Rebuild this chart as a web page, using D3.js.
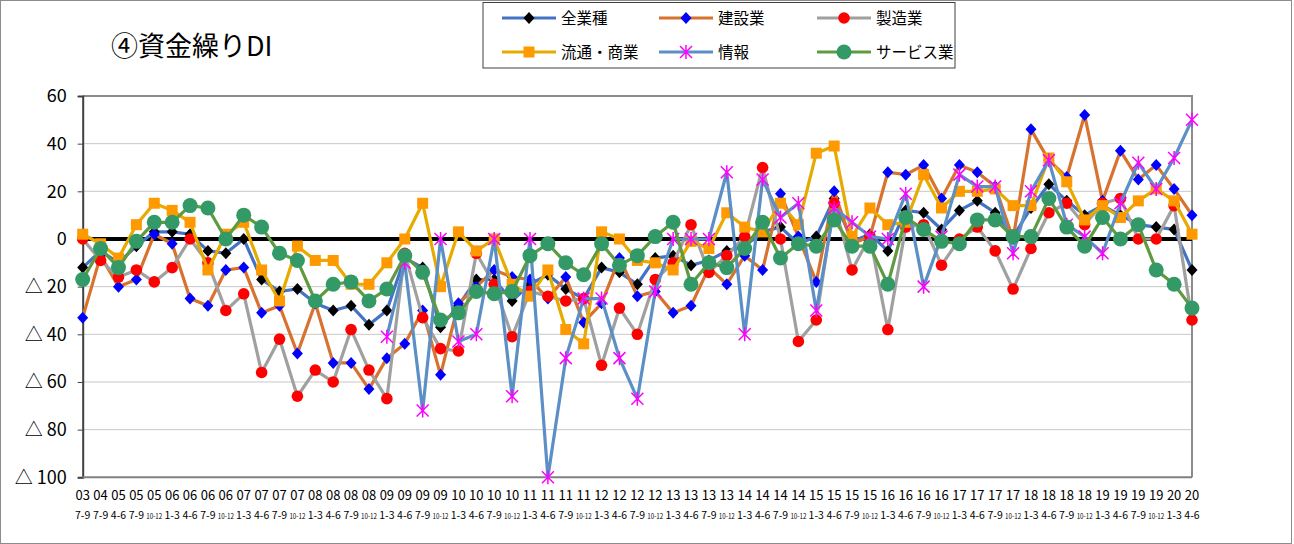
<!DOCTYPE html>
<html>
<head>
<meta charset="utf-8">
<script src="https://cdn.jsdelivr.net/npm/d3@7"></script>
<style>
  body { margin: 0; background: #fff; }
  svg text { font-family: "Noto Sans CJK JP", "Noto Sans", sans-serif; fill: #000; }
</style>
</head>
<body>
<div class="canvas"></div>
<script>
// x categories
const years = ["03","04","05","05","05","06","06","06","06","07","07","07","07","08","08","08","08",
  "09","09","09","09","10","10","10","10","11","11","11","11","12","12","12","12",
  "13","13","13","13","14","14","14","14","15","15","15","15","16","16","16","16",
  "17","17","17","17","18","18","18","18","19","19","19","19","20","20"];
const months = ["7-9","7-9","4-6","7-9","10-12","1-3","4-6","7-9","10-12","1-3","4-6","7-9","10-12",
  "1-3","4-6","7-9","10-12","1-3","4-6","7-9","10-12","1-3","4-6","7-9","10-12","1-3","4-6","7-9","10-12",
  "1-3","4-6","7-9","10-12","1-3","4-6","7-9","10-12","1-3","4-6","7-9","10-12","1-3","4-6","7-9","10-12",
  "1-3","4-6","7-9","10-12","1-3","4-6","7-9","10-12","1-3","4-6","7-9","10-12","1-3","4-6","7-9","10-12",
  "1-3","4-6"];

// series values (DI)
const allInd = [-12,-5,-10,-3,3,3,2,-5,-6,0,-17,-22,-21,-27,-30,-28,-36,-30,-8,-12,-37,-28,-17,-17,-26,-19,-15,-21,-25,-12,-14,-19,-8,-7,-11,-9,-5,-3,3,5,-2,1,17,-1,2,-5,12,11,4,12,16,11,1,13,23,16,10,14,10,6,5,4,-13];
const construction = [-33,-7,-20,-17,2,-2,-25,-28,-13,-12,-31,-28,-48,-27,-52,-52,-63,-50,-44,-30,-57,-27,-20,-13,-16,-17,-25,-16,-35,-27,-8,-24,-22,-31,-28,-12,-19,-7,-13,19,1,-18,20,-2,1,28,27,31,17,31,28,22,0,46,33,26,52,16,37,25,31,21,10];
const manufacturing = [0,-9,-16,-13,-18,-12,0,-10,-30,-23,-56,-42,-66,-55,-60,-38,-55,-67,-6,-33,-46,-47,-6,-19,-41,-22,-24,-26,-25,-53,-29,-40,-17,-10,6,-14,-7,1,30,0,-43,-34,15,-13,1,-38,5,6,-11,0,5,-5,-21,-4,11,15,6,15,17,0,0,14,-34];
const commerce = [2,-2,-8,6,15,12,7,-13,2,7,-13,-26,-3,-9,-9,-19,-19,-10,0,15,-20,3,-5,0,-19,-24,-13,-38,-44,3,0,-9,-10,-13,-1,-4,11,5,3,15,6,36,39,1,13,6,7,27,13,20,20,21,14,14,34,24,8,14,9,16,21,16,2];
const info = [null,null,null,null,null,null,null,null,null,null,null,null,null,null,null,null,null,
  -41,-10,-72,0,-43,-40,0,-66,0,-100,-50,-25,-25,-50,-67,-22,0,0,0,28,-40,25,9,15,-30,13,7,1,0,19,-20,1,27,22,22,-6,20,33,6,1,-6,15,32,21,34,50];
const service = [-17,-4,-12,-1,7,7,14,13,0,10,5,-6,-9,-26,-19,-18,-26,-21,-7,-14,-34,-31,-22,-23,-22,-7,-2,-10,-15,-2,-11,-7,1,7,-19,-10,-12,-4,7,-8,-2,-3,8,-3,-3,-19,9,4,-1,-2,8,8,1,1,17,5,-3,9,0,6,-13,-19,-29];

const seriesNames = ["全業種","建設業","製造業","流通・商業","情報","サービス業"];
const yTicks = [60,40,20,0,-20,-40,-60,-80,-100];

const series = [
  { name: seriesNames[0], values: allInd, line: "#4472C4", fill: "#000", shape: "diamond" },
  { name: seriesNames[1], values: construction, line: "#D8722F", fill: "#0000FF", shape: "diamond" },
  { name: seriesNames[2], values: manufacturing, line: "#A0A0A0", fill: "#FF0000", shape: "circle" },
  { name: seriesNames[3], values: commerce, line: "#E6AA00", fill: "#FF9900", shape: "square" },
  { name: seriesNames[4], values: info, line: "#5B8FC6", fill: "#FF00FF", shape: "star" },
  { name: seriesNames[5], values: service, line: "#5E9A40", fill: "#339966", shape: "bigcircle" }
];

const W = 1294, H = 544;
const plot = { left: 82.7, right: 1192, top: 96, bottom: 477.3 };

const svg = d3.select(".canvas").append("svg")
  .attr("width", W).attr("height", H);

svg.append("rect").attr("x", 0.5).attr("y", 0.5).attr("width", W - 3).attr("height", H - 1)
  .attr("fill", "#fff").attr("stroke", "#8c8c8c");

const categories = years.map((y, i) => y + " " + months[i]);
const x = d3.scalePoint().domain(categories).range([plot.left, plot.right]);
const y = d3.scaleLinear().domain([-100, 60]).range([plot.bottom, plot.top]);

// gridlines
svg.append("g").selectAll("line").data(yTicks.filter(d => d !== 0 && d !== -100 && d !== 60))
  .join("line")
  .attr("x1", plot.left).attr("x2", plot.right)
  .attr("y1", d => y(d)).attr("y2", d => y(d))
  .attr("stroke", "#c8c8c8").attr("stroke-width", 1);

// plot frame top/right
svg.append("path")
  .attr("d", `M${plot.left},${plot.top}H${plot.right}V${plot.bottom}`)
  .attr("fill", "none").attr("stroke", "#8c8c8c").attr("stroke-width", 2);

// y axis
const yAxis = svg.append("g").attr("transform", `translate(${plot.left},0)`)
  .call(d3.axisLeft(y).tickValues(yTicks).tickSize(5)
    .tickFormat(d => d < 0 ? "△ " + (-d) : d));
yAxis.select(".domain").attr("stroke", "#404040").attr("stroke-width", 2);
yAxis.selectAll(".tick line").attr("stroke", "#404040");
yAxis.selectAll(".tick text").attr("x", -16).attr("font-size", 18)
  .style("font-family", "\"Noto Sans CJK JP\", sans-serif");

// x axis line
svg.append("line").attr("x1", plot.left).attr("x2", plot.right)
  .attr("y1", plot.bottom).attr("y2", plot.bottom)
  .attr("stroke", "#808080").attr("stroke-width", 2);

// x labels: year over month range
const xl = svg.append("g").selectAll("g").data(categories).join("g")
  .attr("transform", d => `translate(${x(d)},0)`);
xl.append("text").attr("y", 500).attr("text-anchor", "middle").attr("font-size", 13)
  .text((d, i) => years[i]);
xl.append("text").attr("y", 519).attr("text-anchor", "middle")
  .attr("font-size", (d, i) => months[i].length > 3 ? 7.5 : 10.5)
  .attr("textLength", (d, i) => months[i].length > 3 ? 16 : null)
  .attr("lengthAdjust", "spacingAndGlyphs")
  .text((d, i) => months[i]);

// zero line
svg.append("line").attr("x1", plot.left).attr("x2", plot.right)
  .attr("y1", y(0)).attr("y2", y(0))
  .attr("stroke", "#000").attr("stroke-width", 4);

// marker shapes
function marker(sel, shape, fill) {
  if (shape === "diamond") {
    sel.append("path").attr("d", "M0,-6L5.5,0L0,6L-5.5,0Z").attr("fill", fill);
  } else if (shape === "circle") {
    sel.append("circle").attr("r", 5.8).attr("fill", fill);
  } else if (shape === "bigcircle") {
    sel.append("circle").attr("r", 7.5).attr("fill", fill);
  } else if (shape === "square") {
    sel.append("rect").attr("x", -5.5).attr("y", -5.5).attr("width", 11).attr("height", 11).attr("fill", fill);
  } else if (shape === "star") {
    sel.append("path").attr("d", "M0,-7V7M-6,-6L6,6M-6,6L6,-6")
      .attr("stroke", fill).attr("stroke-width", 1.5).attr("fill", "none");
  }
}

const line = d3.line()
  .defined(d => d.v !== null)
  .x(d => x(d.c))
  .y(d => y(d.v));

series.forEach(s => {
  const pts = s.values.map((v, i) => ({ c: categories[i], v: v }));
  const g = svg.append("g");
  g.append("path").datum(pts).attr("d", line)
    .attr("fill", "none").attr("stroke", s.line).attr("stroke-width", 3.2)
    .attr("stroke-linejoin", "round");
  g.selectAll("g").data(pts.filter(d => d.v !== null)).join("g")
    .attr("transform", d => `translate(${x(d.c)},${y(d.v)})`)
    .each(function () { marker(d3.select(this), s.shape, s.fill); });
});

// title
svg.append("text").attr("x", 111).attr("y", 56).attr("font-size", 27)
  .text("④資金繰りDI");

// legend
const lg = svg.append("g");
lg.append("rect").attr("x", 483).attr("y", 2.5).attr("width", 472).attr("height", 65.5)
  .attr("fill", "#fff").attr("stroke", "#404040").attr("stroke-width", 1);
const cols = [502, 659, 817];
const rows = [18, 52];
series.forEach((s, i) => {
  const cx = cols[i % 3], cy = rows[Math.floor(i / 3)];
  const item = lg.append("g").attr("transform", `translate(${cx},${cy})`);
  item.append("line").attr("x1", 0).attr("x2", 54).attr("stroke", s.line).attr("stroke-width", 3.2);
  const m = item.append("g").attr("transform", "translate(27,0)");
  marker(m, s.shape, s.fill);
  item.append("text").attr("x", 59).attr("y", 5.5).attr("font-size", 15.5).text(s.name);
});
</script>
</body>
</html>
